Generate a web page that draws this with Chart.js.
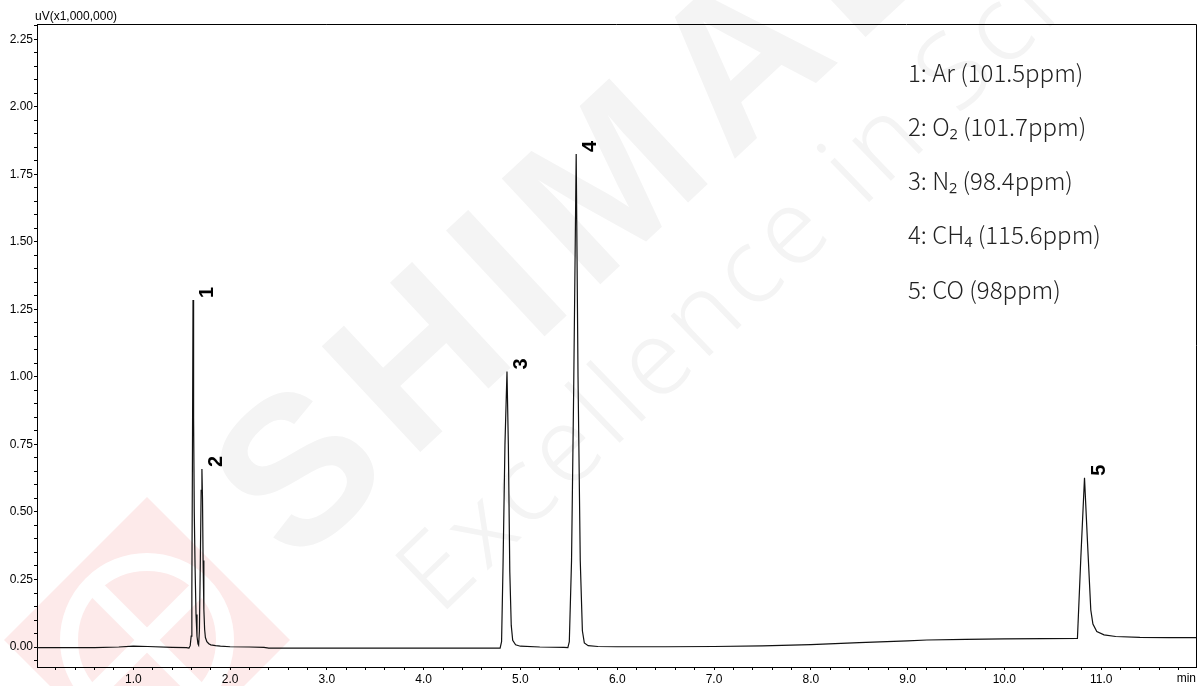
<!DOCTYPE html>
<html>
<head>
<meta charset="utf-8">
<script src="https://cdn.jsdelivr.net/npm/chart.js@4.4.1/dist/chart.umd.min.js"></script>
<style>
  body { margin: 0; background: #fff; }
  #wrap { width: 1200px; height: 686px; }
</style>
</head>
<body>
<div id="wrap"><canvas id="chromatogram" width="1200" height="686"></canvas></div>
<script>
// Chromatogram trace (retention time in min, signal in uV x1,000,000)
const traceTime = [0.0, 0.3, 0.6, 0.85, 1.0, 1.15, 1.4, 1.55, 1.575, 1.588, 1.598, 1.605, 1.611, 1.617,
  1.623, 1.630, 1.638, 1.648, 1.658, 1.668, 1.675, 1.683, 1.692, 1.701, 1.709, 1.715, 1.721, 1.729,
  1.737, 1.745, 1.760, 1.780, 1.800, 1.850, 1.900, 2.000, 2.200, 2.350, 2.400, 3.0, 3.5, 4.0, 4.5,
  4.79, 4.805, 4.82, 4.84, 4.861, 4.875, 4.89, 4.905, 4.92, 4.95, 5.0, 5.2, 5.45,
  5.49, 5.505, 5.528, 5.55, 5.576, 5.595, 5.618, 5.64, 5.66, 5.7, 5.8, 6.0, 6.5, 7.0, 7.5, 8.0,
  8.5, 9.0, 9.2, 9.6, 10.0, 10.4, 10.755, 10.79, 10.828, 10.86, 10.893, 10.915, 10.955, 11.03,
  11.15, 11.4, 11.7, 11.98];
const traceSignal = [-0.002, -0.002, -0.002, 0.0, 0.003, 0.002, -0.001, -0.002, -0.004, 0.005, 0.04, 0.20, 0.70, 1.285,
  0.85, 0.50, 0.30, 0.12, 0.04, 0.012, 0.007, 0.06, 0.30, 0.58, 0.659, 0.55, 0.32, 0.14,
  0.065, 0.035, 0.02, 0.012, 0.008, 0.005, 0.003, 0.001, 0.0, -0.001, -0.004, -0.004, -0.004, -0.004, -0.004,
  -0.004, 0.02, 0.30, 0.75, 1.02, 0.75, 0.28, 0.08, 0.025, 0.008, 0.003, 0.0, -0.001,
  -0.002, 0.02, 0.32, 0.95, 1.826, 1.0, 0.32, 0.06, 0.015, 0.005, 0.002, 0.001, 0.001, 0.002, 0.004, 0.009,
  0.016, 0.023, 0.026, 0.028, 0.030, 0.031, 0.032, 0.33, 0.627, 0.38, 0.137, 0.085, 0.057, 0.045,
  0.039, 0.036, 0.035, 0.035];

// Peak apex positions and their numbers
const peakTimes = [1.617, 1.709, 4.861, 5.576, 10.828];
const peakHeights = [1.285, 0.659, 1.02, 1.826, 0.627];
const peakLabels = ['1', '2', '3', '4', '5'];

// Compound list shown at top right
const compoundLines = ['1: Ar (101.5ppm)', '2: O\u2082 (101.7ppm)', '3: N\u2082 (98.4ppm)', '4: CH\u2084 (115.6ppm)', '5: CO (98ppm)'];

// Axis ticks: minor every 0.2 min / 0.05, labels every 1.0 min / 0.25
const xTickValues = [];
for (let i = 1; i < 60; i++) xTickValues.push(+(i * 0.2).toFixed(1));
const yTickValues = [];
for (let i = -1; i <= 46; i++) yTickValues.push(+(i * 0.05).toFixed(2));

const isMultiple = (v, step) => Math.abs(v / step - Math.round(v / step)) < 1e-6;

// Watermark, frame and annotations
const decorations = {
    id: 'decorations',
    beforeDraw(chart) {
        const ctx = chart.ctx;
        ctx.save();
        // faint logo bottom-left
        ctx.fillStyle = '#fdeaea';
        ctx.beginPath();
        ctx.moveTo(147, 497);
        ctx.lineTo(290, 640);
        ctx.lineTo(147, 783);
        ctx.lineTo(4, 640);
        ctx.closePath();
        ctx.fill();
        ctx.strokeStyle = '#ffffff';
        ctx.lineWidth = 18;
        ctx.beginPath();
        ctx.arc(147, 640, 78, 0, Math.PI * 2);
        ctx.stroke();
        ctx.beginPath();
        ctx.moveTo(147 - 50, 640 - 50); ctx.lineTo(147 + 50, 640 + 50);
        ctx.moveTo(147 + 50, 640 - 50); ctx.lineTo(147 - 50, 640 + 50);
        ctx.stroke();
        // faint company text
        ctx.fillStyle = '#f4f4f4';
        ctx.textBaseline = 'middle';
        ctx.textAlign = 'left';
        ctx.translate(255, 527);
        ctx.rotate(-43 * Math.PI / 180);
        ctx.font = 'bold 210px "Liberation Sans", Arial, sans-serif';
        ctx.letterSpacing = '18px';
        ctx.fillText('SHIMADZU', 0, 0);
        ctx.restore();
        ctx.save();
        ctx.fillStyle = '#f4f4f4';
        ctx.textBaseline = 'middle';
        ctx.translate(419, 595);
        ctx.rotate(-44 * Math.PI / 180);
        ctx.font = '300 105px "Noto Sans", sans-serif';
        ctx.letterSpacing = '6px';
        ctx.fillText('Excellence in Science', 0, 0);
        ctx.restore();
    },
    afterDraw(chart) {
        const ctx = chart.ctx;
        const area = chart.chartArea;
        const xs = chart.scales.x;
        const ys = chart.scales.y;
        ctx.save();
        // top and right frame lines
        ctx.strokeStyle = '#000';
        ctx.lineWidth = 1;
        ctx.beginPath();
        ctx.moveTo(area.left, area.top + 0.5);
        ctx.lineTo(area.right + 0.5, area.top + 0.5);
        ctx.lineTo(area.right + 0.5, area.bottom);
        ctx.stroke();

        // axis captions
        ctx.fillStyle = '#000';
        ctx.font = '12px "Liberation Sans", Arial, sans-serif';
        ctx.textBaseline = 'alphabetic';
        ctx.textAlign = 'left';
        ctx.fillText('uV(x1,000,000)', 35, 20);
        ctx.textAlign = 'right';
        ctx.fillText('min', 1196, 682);

        // peak numbers, rotated
        ctx.font = 'bold 20px "Liberation Sans", Arial, sans-serif';
        ctx.textAlign = 'left';
        ctx.textBaseline = 'alphabetic';
        peakTimes.forEach((t, i) => {
            const px = xs.getPixelForValue(t);
            const py = ys.getPixelForValue(peakHeights[i]);
            ctx.save();
            ctx.translate(px + 20, py - 2);
            ctx.rotate(-Math.PI / 2);
            ctx.fillText(peakLabels[i], 0, 0);
            ctx.restore();
        });

        // compound list
        ctx.font = '300 24px "Noto Sans CJK JP", "Noto Sans", sans-serif';
        ctx.fillStyle = '#222';
        ctx.textAlign = 'left';
        compoundLines.forEach((line, i) => {
            ctx.fillText(line, 908, 82 + i * 54.15);
        });
        ctx.restore();
    }
};

const ctx = document.getElementById('chromatogram').getContext('2d');
const chromChart = new Chart(ctx, {
    type: 'scatter',
    data: {
        datasets: [{
            data: traceTime.map((t, i) => ({ x: t, y: traceSignal[i] })),
            showLine: true,
            borderColor: '#111',
            borderWidth: 1.2,
            pointRadius: 0,
            tension: 0,
            fill: false
        }]
    },
    options: {
        responsive: false,
        animation: false,
        layout: { padding: { top: 24, right: 4, left: 0, bottom: 0 } },
        plugins: {
            legend: { display: false },
            tooltip: { enabled: false }
        },
        scales: {
            x: {
                type: 'linear',
                min: 0.005,
                max: 11.98,
                afterBuildTicks: scale => { scale.ticks = xTickValues.map(v => ({ value: v })); },
                afterFit: scale => { scale.height = 19; },
                ticks: {
                    autoSkip: false,
                    maxRotation: 0,
                    padding: 2,
                    color: '#000',
                    font: { family: '"Liberation Sans", Arial, sans-serif', size: 12 },
                    callback: v => isMultiple(v, 1) ? v.toFixed(1) : ''
                },
                grid: { drawOnChartArea: false, tickLength: 3, tickColor: '#000' },
                border: { color: '#000', width: 1 }
            },
            y: {
                min: -0.074,
                max: 2.307,
                afterBuildTicks: scale => { scale.ticks = yTickValues.map(v => ({ value: v })); },
                afterFit: scale => { scale.width = 37; },
                ticks: {
                    autoSkip: false,
                    padding: 1,
                    color: '#000',
                    font: { family: '"Liberation Sans", Arial, sans-serif', size: 12 },
                    callback: v => isMultiple(v, 0.25) ? v.toFixed(2) : ''
                },
                grid: { drawOnChartArea: false, tickLength: 3, tickColor: '#000' },
                border: { color: '#000', width: 1 }
            }
        }
    },
    plugins: [decorations]
});
</script>
</body>
</html>
